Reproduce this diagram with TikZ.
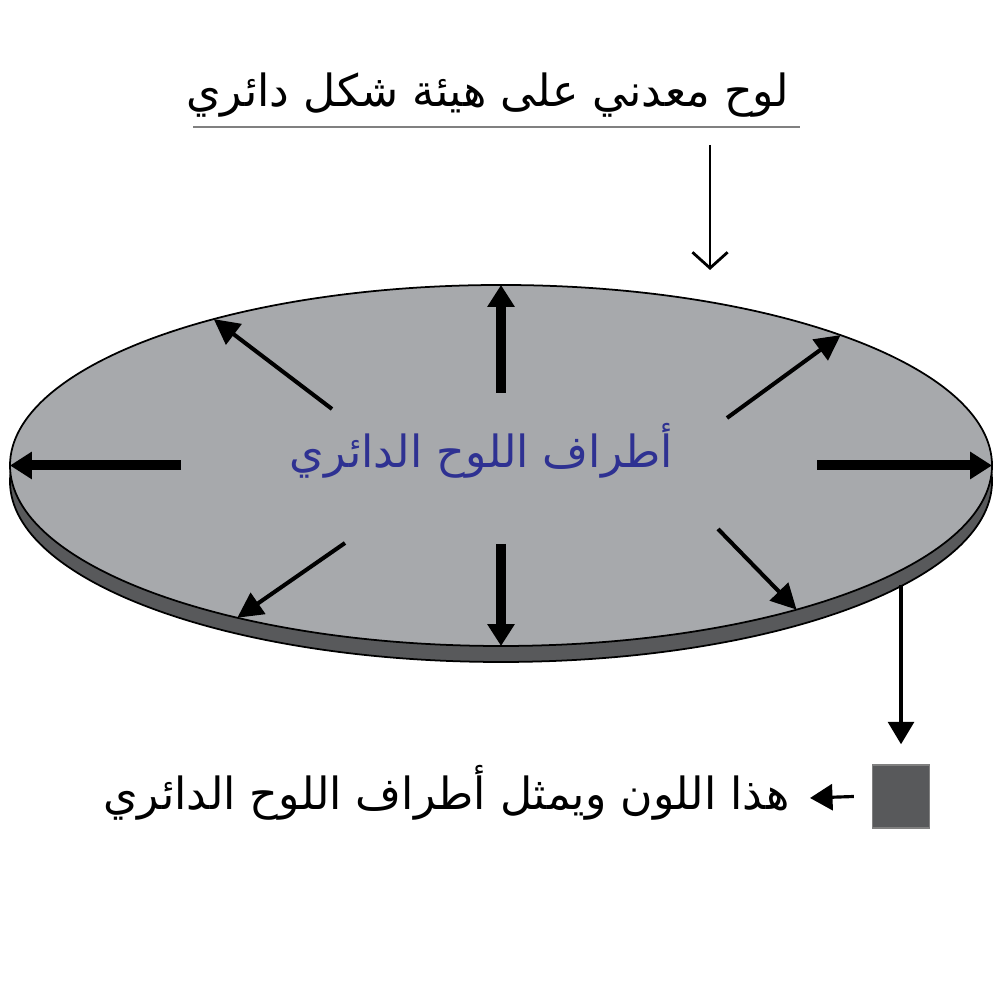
\documentclass[tikz,border=0pt]{standalone}
\usepackage{fontspec}
\newfontfamily\arabicfont[Script=Arabic]{DejaVu Sans}
\TeXXeTstate=1
\usetikzlibrary{arrows.meta, positioning, shapes.geometric}
\definecolor{platetop}{HTML}{A7A9AC}
\definecolor{plateedge}{HTML}{58595B}
\definecolor{rimblue}{HTML}{2E3192}

\begin{document}
\begin{tikzpicture}[
        plate/.style={ellipse, draw, line width=0.5pt, minimum width=9.82cm,
            minimum height=3.61cm, inner sep=0pt, outer sep=0pt},
        big/.style={-{Triangle[width=7.4pt, length=6.2pt]}, line width=2.85pt},
        diag/.style={-{Triangle[width=7.2pt, length=7.2pt]}, line width=1.15pt},
        leg/.style={-{Triangle[width=7.4pt, length=6.4pt]}, line width=0.9pt},
        lbl/.style={font=\arabicfont\fontsize{12.6}{15}\selectfont, inner sep=0pt}
    ]
        \useasboundingbox (0,0) rectangle (10,10);

        % plate: rim below, face on top
        \node[plate, fill=plateedge] (side) at (5.01,5.185) {};
        \node[plate, fill=platetop]  (top)  at (5.01,5.345) {};

        \coordinate (tn)  at (5.01,6.07);
        \coordinate (ts)  at (5.01,4.56);
        \coordinate (tw)  at (1.81,5.345);
        \coordinate (te)  at (8.17,5.345);
        \coordinate (tnw) at (3.32,5.91);
        \coordinate (tne) at (7.27,5.82);
        \coordinate (tse) at (7.18,4.71);
        \coordinate (tsw) at (3.45,4.57);

        \draw[big] (tn) -- (top.north);
        \draw[big] (ts) -- (top.south);
        \draw[big] (tw) -- (top.west);
        \draw[big] (te) -- (top.east);
        \draw[diag] (tnw) -- (top.153);
        \draw[diag] (tne) -- (top.21);
        \draw[diag] (tse) -- (top.-26);
        \draw[diag] (tsw) -- (top.210);

        \node[lbl, text=rimblue, anchor=base] (rim) at (4.815,5.32)
            {\beginR أطراف اللوح الدائري\endR};

        % caption
        \node[lbl, anchor=base east] (title) at (7.90,8.93)
            {\beginR لوح معدني على هيئة شكل دائري\endR};
        \coordinate (ul1) at (1.93,8.73);
        \coordinate (ul2) at (8.00,8.73);
        \draw[gray, line width=0.5pt] (ul1) -- (ul2);
        \coordinate (hint) at (7.10,8.55);
        \coordinate (hend) at (7.10,7.30);
        \draw[-{Straight Barb[width=10pt, length=4.5pt]}, line width=0.8pt] (hint) -- (hend);

        % legend
        \node[draw=gray, fill=plateedge, minimum width=0.57cm, minimum height=0.63cm,
            inner sep=0pt] (swatch) at (9.01,2.035) {};
        \coordinate (drop) at (9.01,4.15);
        \draw[leg] (drop) -- ([yshift=2mm]swatch.north);
        \node[lbl, anchor=base east] (note) at (7.90,1.90)
            {\beginR هذا اللون ويمثل أطراف اللوح الدائري\endR};
        \coordinate (ptr) at (8.10,2.02);
        \draw[leg] ([xshift=-1.8mm]swatch.west) -- (ptr);
\end{tikzpicture}
\end{document}
